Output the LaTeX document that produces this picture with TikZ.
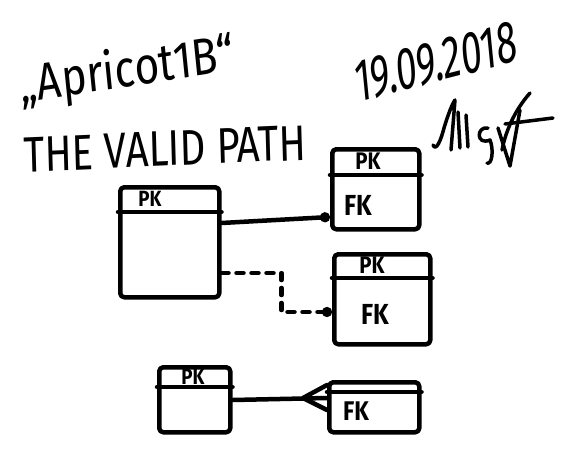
\documentclass[tikz,border=0pt]{standalone}
\usepackage{fontspec}
\setmainfont{Fira Sans}
\usetikzlibrary{arrows.meta, positioning}

\tikzset{
  ink/.style={line width=4.5pt, line cap=round, line join=round},
  tbl/.style={ink, draw, rounded corners=4pt, anchor=north west, inner sep=0pt},
  key/.style={font=\bfseries\fontsize{#1}{#1}\selectfont, inner sep=0pt, xscale=0.85},
  hand/.style={font=\fontsize{#1}{#1}\selectfont, inner sep=0pt},
  dotend/.style={-{Circle[length=10pt]}},
}

\begin{document}
\begin{tikzpicture}[x=1pt, y=-1pt]
	\useasboundingbox (0,0) rectangle (579,448);
	% headings
	\node[hand=52, xscale=0.82, rotate=7, anchor=west] (title) at (20,88) {„Apricot1B“};
	\node[hand=50, xscale=0.8, rotate=2, anchor=west] (sub) at (24,155) {THE VALID PATH};
	\node[hand=60, xscale=0.62, rotate=9] (date) at (436,62) {19.09.2018};
	% signature
	\draw[ink, line width=3.5pt] (433,145) .. controls (436,152) and (441,140) .. (444,128)
		.. controls (448,115) and (452,104) .. (455,100) -- (451,150);
	\draw[ink, line width=3.5pt] (458,112) -- (460,148) (466,115) -- (468,147);
	\draw[ink, line width=3.5pt] (488,128) .. controls (476,126) and (476,146) .. (490,140)
		.. controls (494,150) and (492,165) .. (487,163);
	\draw[ink, line width=3.5pt] (498,128) -- (510,166) -- (520,110);
	\draw[ink, line width=3.5pt] (530,93) .. controls (515,110) and (506,130) .. (502,150);
	\draw[ink, line width=3.5pt] (505,124) -- (553,118);
	% tables
	\node[tbl, minimum width=99pt, minimum height=110pt] (tA) at (118,185) {};
	\node[tbl, minimum width=87pt, minimum height=80pt] (tB) at (330,147) {};
	\node[tbl, minimum width=96pt, minimum height=90pt] (tC) at (332,252) {};
	\node[tbl, minimum width=71pt, minimum height=65pt] (tD) at (157,365) {};
	\node[tbl, minimum width=90pt, minimum height=50pt] (tE) at (327,380) {};
	\draw[ink] ([yshift=-27pt]tA.north west) -- ([yshift=-27pt]tA.north east);
	\draw[ink] ([yshift=-28pt]tB.north west) -- ([yshift=-28pt]tB.north east);
	\draw[ink] ([yshift=-26pt]tC.north west) -- ([yshift=-26pt]tC.north east);
	\draw[ink] ([yshift=-22pt]tD.north west) -- ([yshift=-22pt]tD.north east);
	\draw[ink] ([yshift=-12pt]tE.north west) -- ([yshift=-12pt]tE.north east);
	% keys
	\node[key=22] (tApk) at (150,199) {PK};
	\node[key=24] (tBpk) at (368,161) {PK};
	\node[key=29] (tBfk) at (358,205) {FK};
	\node[key=24] (tCpk) at (372,265) {PK};
	\node[key=29] (tCfk) at (375,314) {FK};
	\node[key=22] (tDpk) at (193,377) {PK};
	\node[key=27] (tEfk) at (356,411) {FK};
	% relations
	\draw[ink, dotend] ([yshift=-38pt]tA.north east) -- ([yshift=-70pt]tB.north west);
	\draw[ink, dotend, dash pattern=on 7pt off 8pt] ([yshift=-88pt]tA.north east)
		-- ++(60pt,0) |- ([yshift=-60pt]tC.north west);
	\coordinate (crow) at (303,398);
	\draw[ink] ([yshift=-35pt]tD.north east) -- ([yshift=-18pt]tE.north west);
	\draw[ink] ([yshift=-5pt]tE.north west) -- (crow) -- ([yshift=-30pt]tE.north west);
\end{tikzpicture}
\end{document}
